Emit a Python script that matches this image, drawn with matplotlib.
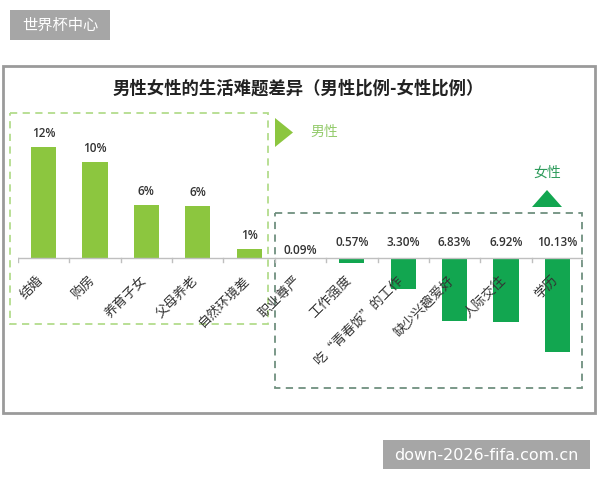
import matplotlib
matplotlib.use("Agg")
import matplotlib.pyplot as plt
from matplotlib.patches import Rectangle, Polygon

plt.rcParams['font.family'] = ['Noto Sans CJK SC', 'DejaVu Sans']

# ---- data ----
male_categories = ["结婚", "购房", "养育子女", "父母养老", "自然环境差"]
male_values = [12.0, 10.4, 5.7, 5.6, 1.0]
female_categories = ["职业尊严", "工作强度", "吃“青春饭”的工作", "缺少兴趣爱好", "人际交往", "学历"]
female_values = [0.09, 0.57, 3.30, 6.83, 6.92, 10.13]
title = "男性女性的生活难题差异（男性比例-女性比例）"
male_legend = "男性"
female_legend = "女性"
watermark_top = "世界杯中心"
watermark_bottom = "down-2026-fifa.com.cn"

MALE_COLOR = "#8cc63f"
FEMALE_COLOR = "#12a650"

W, H = 600, 480
fig = plt.figure(figsize=(6, 4.8), dpi=100)
fig.patch.set_facecolor("white")

# ---- overlay axes in pixel coordinates ----
ov = fig.add_axes([0, 0, 1, 1], zorder=0)
ov.set_xlim(0, W)
ov.set_ylim(H, 0)
ov.axis("off")

# outer chart border
ov.add_patch(Rectangle((3, 66), 592, 347, fill=False, edgecolor="#9a9a9a", lw=2))
# title
ov.text(298, 89, title, ha="center", va="center", fontsize=12.5,
        fontweight="bold", color="#222222")
# dashed group boxes
ov.add_patch(Rectangle((10, 113), 258, 211, fill=False, edgecolor="#b3dc8c",
                       lw=1.3, ls=(0, (4, 3))))
ov.add_patch(Rectangle((275, 213), 307, 175, fill=False, edgecolor="#70907f",
                       lw=1.3, ls=(0, (4, 3))))
# legend markers
ov.add_patch(Polygon([(275, 118), (275, 147), (293, 132.5)], closed=True,
                     facecolor=MALE_COLOR, edgecolor="none"))
ov.text(324, 132, male_legend, ha="center", va="center", fontsize=10, color="#94cb6c")
ov.add_patch(Polygon([(532, 207), (562, 207), (547, 190)], closed=True,
                     facecolor=FEMALE_COLOR, edgecolor="none"))
ov.text(547, 173, female_legend, ha="center", va="center", fontsize=10, color="#2e9c5c")

# watermarks
ov.add_patch(Rectangle((10, 10), 100, 30, facecolor="#a6a6a6", edgecolor="none"))
ov.text(60, 25.5, watermark_top, ha="center", va="center", fontsize=11, color="white")
ov.add_patch(Rectangle((383, 440), 207, 29, facecolor="#a6a6a6", edgecolor="none"))
ov.text(486.5, 455, watermark_bottom, ha="center", va="center", fontsize=11.5,
        color="white", family=["DejaVu Sans"])

# ---- data axes ----
px_per_unit = 9.25
base_px = 258
top_px, bot_px = 120, 380
left_px, right_px = 18, 583
ax = fig.add_axes([left_px / W, (H - bot_px) / H, (right_px - left_px) / W,
                   (bot_px - top_px) / H], zorder=1)
ax.patch.set_alpha(0)
ax.set_xlim(-0.5, 10.5)
ax.set_ylim(-(bot_px - base_px) / px_per_unit, (base_px - top_px) / px_per_unit)
for s in ax.spines.values():
    s.set_visible(False)
ax.set_xticks([])
ax.set_yticks([])

categories = male_categories + female_categories
n_m = len(male_values)
xm = list(range(n_m))
xf = list(range(n_m, n_m + len(female_values)))
bw = 0.49
ax.bar(xm, male_values, width=bw, color=MALE_COLOR, zorder=2)
ax.bar(xf, [-v for v in female_values], width=bw, color=FEMALE_COLOR, zorder=2)

# baseline and ticks
ax.axhline(0, color="#bfbfbf", lw=1, zorder=3)
tick_len = 4 / px_per_unit
for b in range(len(categories) + 1):
    ax.plot([b - 0.5, b - 0.5], [0, -tick_len], color="#bfbfbf", lw=1, zorder=3)

# value labels
u = 1 / px_per_unit
for x, v in zip(xm, male_values):
    ax.text(x, v + 7 * u, f"{v:.0f}%", ha="center", va="bottom", fontsize=8.5,
            color="#333333", family=["Open Sans", "DejaVu Sans"], fontweight="semibold")
for i, (x, v) in enumerate(zip(xf, female_values)):
    y = 8 * u if i == 0 else 15 * u
    ax.text(x, y, f"{v:.2f}%", ha="center", va="center", fontsize=8.5,
            color="#333333", family=["Open Sans", "DejaVu Sans"], fontweight="semibold")

# category labels
for x, c in zip(xm + xf, categories):
    ax.text(x - 0.04, -20 * u, c, rotation=45, rotation_mode="anchor", ha="right",
            va="center", fontsize=9.5, color="#333333", zorder=4)

fig.savefig("out.png", dpi=100, facecolor="white")
